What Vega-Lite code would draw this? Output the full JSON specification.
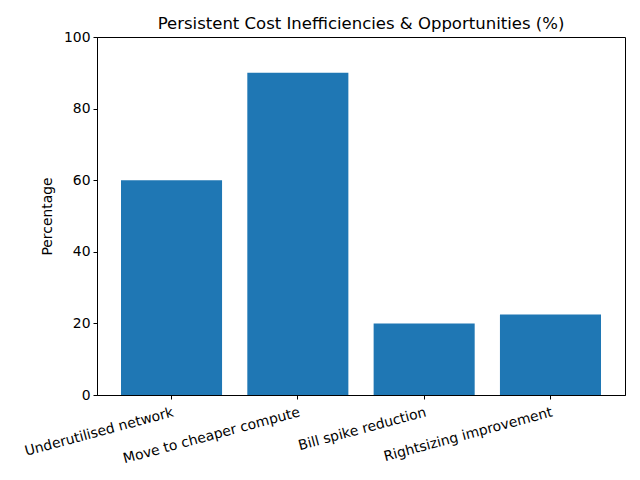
{
  "$schema": "https://vega.github.io/schema/vega-lite/v6.json",
  "autosize": "none",
  "width": 528,
  "height": 358,
  "padding": {"left": 97, "top": 37, "right": 15, "bottom": 85},
  "background": "white",
  "title": {"text": "Persistent Cost Inefficiencies & Opportunities (%)", "font": "DejaVu Sans", "fontSize": 16.5, "fontWeight": "normal", "color": "black", "offset": -2},
  "config": {"view": {"stroke": "black", "strokeWidth": 1}, "font": "DejaVu Sans"},
  "data": {"values": [
    {"category": "Underutilised network", "value": 60},
    {"category": "Move to cheaper compute", "value": 90},
    {"category": "Bill spike reduction", "value": 20},
    {"category": "Rightsizing improvement", "value": 22.5}
  ]},
  "mark": {"type": "bar", "color": "#1f77b4"},
  "encoding": {
    "x": {"field": "category", "type": "nominal", "sort": null,
      "scale": {"paddingInner": 0.2, "paddingOuter": 0.19},
      "axis": {"title": null, "labelAngle": -15, "labelAlign": "right", "labelBaseline": "top", "labelFontSize": 13.9, "labelColor": "black", "tickColor": "black", "domainColor": "black", "tickSize": 4, "labelPadding": 6, "labelLimit": 300, "labelOverlap": false, "labelFlush": false}},
    "y": {"field": "value", "type": "quantitative",
      "scale": {"domain": [0, 100], "nice": false},
      "axis": {"title": "Percentage", "titleFontSize": 13.9, "titleFontWeight": "normal", "titleColor": "black", "values": [0, 20, 40, 60, 80, 100], "grid": false, "labelFontSize": 13.9, "labelColor": "black", "tickColor": "black", "domainColor": "black", "tickSize": 4, "labelPadding": 3, "titlePadding": 9, "labelOverlap": false, "labelFlush": false}}
  }
}
